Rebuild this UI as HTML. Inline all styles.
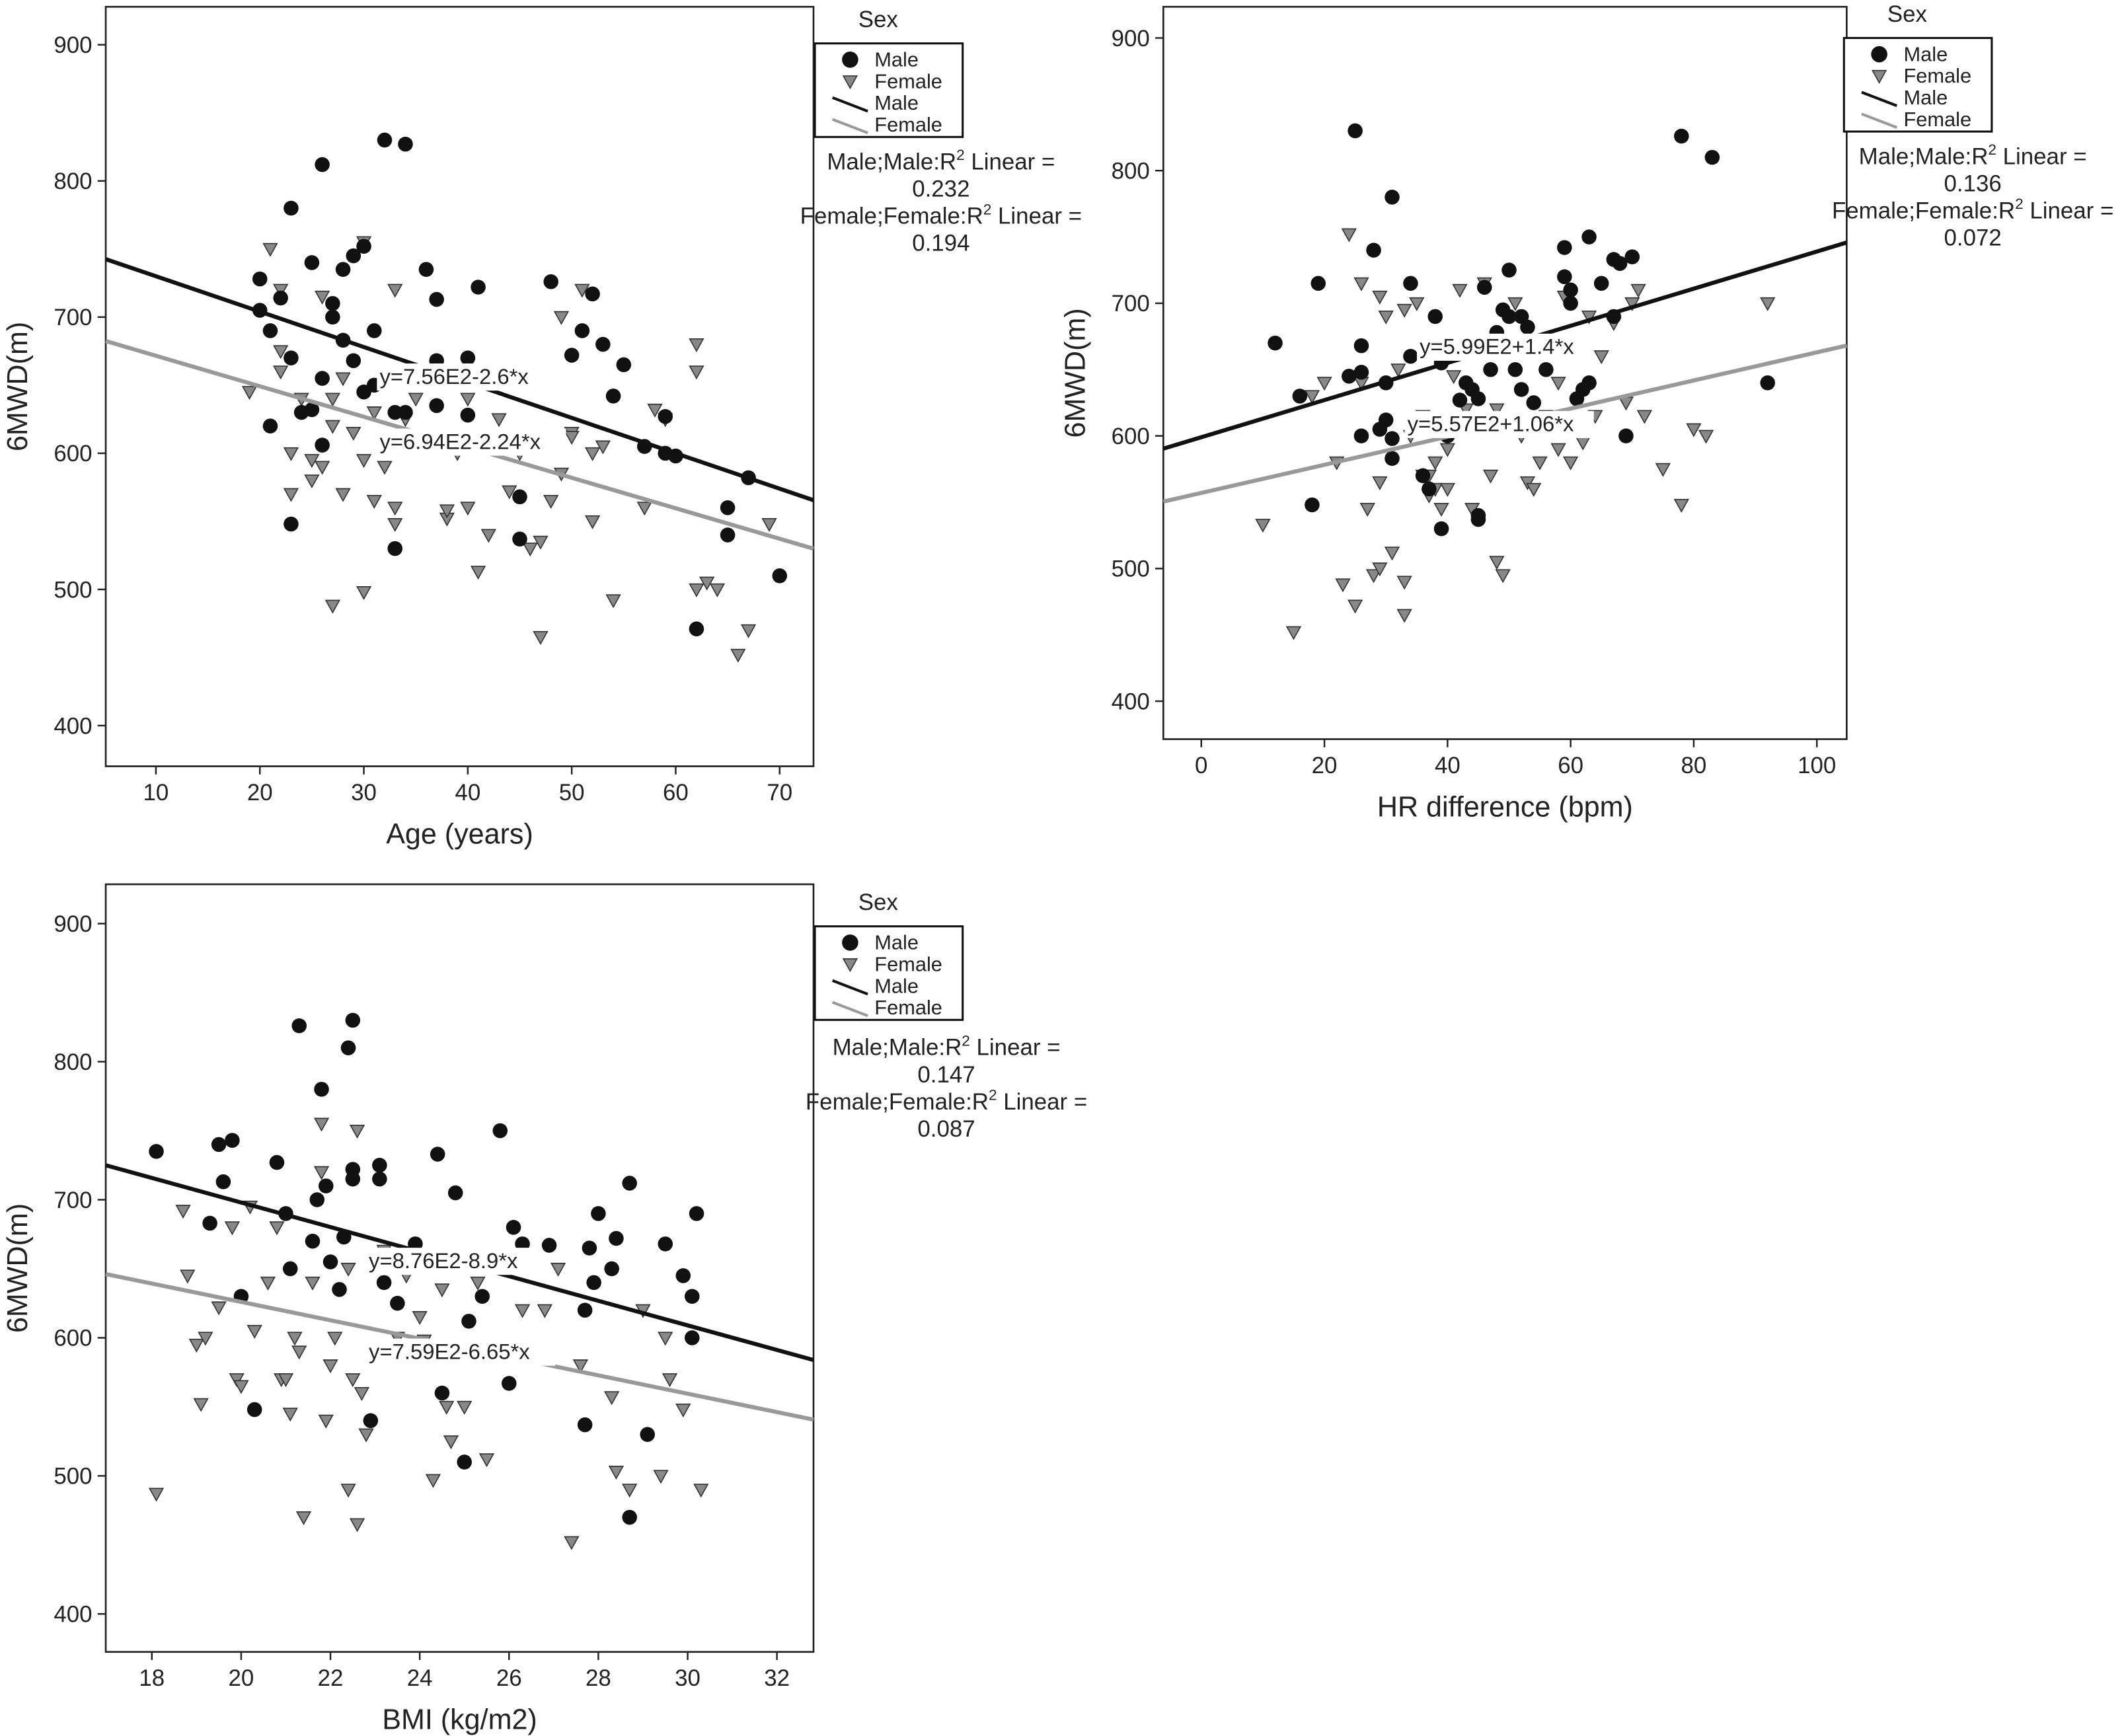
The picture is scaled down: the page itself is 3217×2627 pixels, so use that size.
<!DOCTYPE html>
<html><head><meta charset="utf-8"><style>
html,body{margin:0;padding:0;background:#fff}
svg{display:block;font-family:"Liberation Sans",Arial,sans-serif}
</style></head><body>
<svg id="fig" width="3217" height="2627" viewBox="0 0 1568 1280" preserveAspectRatio="none" xmlns="http://www.w3.org/2000/svg"></svg>
<script>
// ---- Panel 1: Age ----
const ageMaleX=[20,21,21,20,22,23,23,23,24,25,25,26,26,26,27,27,28,28,29,29,30,30,31,31,32,33,33,34,34,36,37,37,37,40,40,41,45,45,48,50,51,52,53,54,55,57,59,59,60,62,65,65,67,70];
const ageMaleY=[728,690,620,705,714,780,670,548,630,740,632,812,655,606,710,700,735,683,745,668,645,752,690,650,830,630,530,827,630,735,713,668,635,670,628,722,568,537,726,672,690,717,680,642,665,605,627,600,598,471,560,540,582,510];
const ageFemX=[19,21,22,22,22,23,23,24,25,25,26,26,27,27,27,28,28,29,30,30,30,31,31,32,32,33,33,33,34,35,38,38,38,39,40,40,40,41,42,43,44,45,46,47,47,48,49,49,50,50,51,52,52,53,54,57,58,59,62,62,62,63,64,66,67,69];
const ageFemY=[645,750,660,720,675,600,570,640,580,595,590,715,488,620,640,570,655,615,755,498,595,565,630,610,590,720,560,548,625,640,655,552,558,600,560,640,665,513,540,625,572,600,530,465,535,565,585,700,615,612,720,550,600,605,492,560,632,625,680,500,660,505,500,452,470,548];
// ---- Panel 2: HR ----
const hrMaleX=[12,16,18,19,24,25,26,26,26,28,29,30,30,31,31,31,34,34,36,37,38,39,39,40,42,43,44,45,45,45,46,47,48,49,50,50,51,52,52,53,54,56,59,59,60,60,61,62,63,63,65,67,67,68,69,70,78,83,92];
const hrMaleY=[670,630,548,715,645,830,668,648,600,740,605,612,640,598,780,583,715,660,570,560,690,655,530,600,627,640,635,540,537,628,712,650,678,695,725,690,650,690,635,682,625,650,742,720,710,700,628,635,750,640,715,733,690,730,600,735,826,810,640];
const hrFemX=[10,15,18,20,22,23,24,25,26,26,27,28,29,29,29,30,31,32,33,33,33,34,35,36,36,37,37,38,38,39,40,40,41,42,43,44,46,46,47,48,48,49,50,51,52,53,54,55,56,58,58,59,60,62,63,64,65,67,69,70,71,72,75,78,80,82,92];
const hrFemY=[533,452,630,640,580,488,752,472,640,715,545,495,500,705,565,690,512,650,465,490,695,600,700,615,570,570,555,560,580,545,560,590,645,710,620,545,610,715,570,505,620,495,610,700,600,565,560,580,615,640,590,705,580,595,690,615,660,685,625,700,710,615,575,548,605,600,700];
// ---- Panel 3: BMI ----
const bmiMaleX=[18.1,19.3,19.5,19.6,19.8,20,20.3,20.8,21,21.1,21.3,21.6,21.7,21.8,21.9,22,22.2,22.3,22.4,22.5,22.5,22.5,22.9,23.1,23.1,23.2,23.5,23.9,24.4,24.5,24.8,25,25.1,25.4,25.8,26,26.1,26.3,26.9,27.7,27.7,27.8,27.9,28,28.3,28.4,28.7,28.7,29.1,29.5,29.9,30.1,30.1,30.2];
const bmiMaleY=[735,683,740,713,743,630,548,727,690,650,826,670,700,780,710,655,635,673,810,722,830,715,540,725,715,640,625,668,733,560,705,510,612,630,750,567,680,668,667,537,620,665,640,690,650,672,712,470,530,668,645,600,630,690];
const bmiFemX=[18.1,18.7,18.8,19,19.1,19.2,19.5,19.8,19.9,20,20.2,20.3,20.6,20.8,20.9,21,21.1,21.2,21.3,21.4,21.6,21.8,21.8,21.9,22,22.1,22.4,22.4,22.5,22.6,22.6,22.7,22.8,23.2,23.5,23.7,24,24.1,24.3,24.5,24.6,24.7,25,25.3,25.5,26,26.3,26.8,27.1,27.4,27.6,28.3,28.4,28.7,29,29.4,29.5,29.6,29.9,30.3];
const bmiFemY=[487,692,645,595,552,600,622,680,570,565,695,605,640,680,570,570,545,600,590,470,640,755,720,540,580,600,490,650,570,750,465,560,530,663,600,645,615,598,497,635,550,525,550,640,512,590,620,620,650,452,580,557,503,490,620,500,600,570,548,490];
const yTicks=[400,500,600,700,800,900];
const ageTicks=[10,20,30,40,50,60,70];
const hrTicks=[0,20,40,60,80,100];
const bmiTicks=[18,20,22,24,26,28,30,32];
const fitAge=[756,-2.6,694,-2.24];
const fitHr=[599,1.4,557,1.06];
const fitBmi=[876,-8.9,759,-6.65];

const NS="http://www.w3.org/2000/svg";
const svg=document.getElementById('fig');
function mk(tag,attrs,parent,text){const e=document.createElementNS(NS,tag);for(const k in attrs)e.setAttribute(k,attrs[k]);if(text!==undefined)e.textContent=text;(parent||svg).appendChild(e);return e;}

function panel(cfg){
  const g=mk('g',{});
  
  
  const sx=v=>cfg.px0+(v-cfg.x0)*cfg.pxu;
  const sy=v=>cfg.py900+(900-v)*cfg.pyu;
  const vx=p=>cfg.x0+(p-cfg.px0)/cfg.pxu;
  const box=mk('rect',{x:cfg.L,y:cfg.T,width:cfg.R-cfg.L,height:cfg.B-cfg.T,fill:'none',stroke:'#222','stroke-width':1.3},g);
  
  
  yTicks.forEach(t=>{const y=sy(t);mk('line',{x1:cfg.L-6,x2:cfg.L,y1:y,y2:y,stroke:'#222','stroke-width':1.2},g);
    const tl=mk('text',{x:cfg.L-10,y:y+6,'text-anchor':'end','font-size':17,fill:'#222'},g,t);
    
    });
  cfg.xt.forEach(t=>{const x=sx(t);mk('line',{x1:x,x2:x,y1:cfg.B,y2:cfg.B+6,stroke:'#222','stroke-width':1.2},g);
    const tl=mk('text',{x:x,y:cfg.B+25,'text-anchor':'middle','font-size':17,fill:'#222'},g,t);
    
    });
  const yt=mk('text',{x:0,y:0,'text-anchor':'middle','font-size':21,fill:'#222',transform:`translate(${cfg.ytx},${(cfg.T+cfg.B)/2}) rotate(-90)`},g,'6MWD(m)');
  
  
  const xtl=mk('text',{x:(cfg.L+cfg.R)/2,y:cfg.B+57,'text-anchor':'middle','font-size':21,fill:'#222'},g,cfg.xtitle);
  
  
  cfg.fx.forEach((v,i)=>{const x=sx(v),y=sy(cfg.fy[i]);
    const p=mk('path',{d:`M${x-5},${y-4} L${x+5},${y-4} L${x},${y+5} Z`,fill:'#888',stroke:'#333','stroke-width':0.8},g);
    
    });
  cfg.mx.forEach((v,i)=>{const c=mk('circle',{cx:sx(v),cy:sy(cfg.my[i]),r:5.5,fill:'#111'},g);
    
    });
  const xa=vx(cfg.L),xb=vx(cfg.R),f=cfg.fit;
  const lm=mk('line',{x1:cfg.L,y1:sy(f[0]+f[1]*xa),x2:cfg.R,y2:sy(f[0]+f[1]*xb),stroke:'#111','stroke-width':3},g);
  
  
  const lf=mk('line',{x1:cfg.L,y1:sy(f[2]+f[3]*xa),x2:cfg.R,y2:sy(f[2]+f[3]*xb),stroke:'#999','stroke-width':3},g);
  
  
  cfg.eq.forEach(e=>{mk('rect',{x:e[0]-2,y:e[1]-15,width:e[2].length*9.3,height:20,fill:'#fff'},g);
    const t=mk('text',{x:e[0],y:e[1],'font-size':16,fill:'#222'},g,e[2]);
    
    });
  const lg=cfg.lg,lx=lg[0],ly=lg[1];
  const st=mk('text',{x:lx+32,y:ly-12,'font-size':17,fill:'#222'},g,'Sex');
  
  
  const lb=mk('rect',{x:lx,y:ly,width:109,height:69,fill:'#fff',stroke:'#111','stroke-width':1.5},g);
  
  
  mk('circle',{cx:lx+26,cy:ly+12,r:6,fill:'#111'},g);
  mk('path',{d:`M${lx+21},${ly+24} L${lx+31},${ly+24} L${lx+26},${ly+33} Z`,fill:'#888',stroke:'#333','stroke-width':0.8},g);
  mk('line',{x1:lx+13,y1:ly+40,x2:lx+39,y2:ly+50,stroke:'#111','stroke-width':2},g);
  mk('line',{x1:lx+13,y1:ly+56,x2:lx+39,y2:ly+66,stroke:'#999','stroke-width':2},g);
  [['Male',17],['Female',33],['Male',49],['Female',65]].forEach(a=>{const t=mk('text',{x:lx+44,y:ly+a[1],'font-size':15,fill:'#222'},g,a[0]);
    
    });
  const rc=cfg.rc;
  const lines=[['Male;Male:R','2',' Linear ='],[cfg.r2[0]],['Female;Female:R','2',' Linear ='],[cfg.r2[1]]];
  lines.forEach((l,i)=>{const t=mk('text',{x:rc[0],y:rc[1]+i*20,'text-anchor':'middle','font-size':17,fill:'#222'},g);
    
    
    mk('tspan',{},t,l[0]);
    if(l[1]){mk('tspan',{'font-size':11,dy:-7},t,l[1]);mk('tspan',{dy:7},t,l[2]);}
  });
}
panel({name:'age-panel',L:78,R:600,T:5,B:565,px0:115,x0:10,pxu:7.667,py900:33,pyu:1.004,xt:ageTicks,xtitle:'Age (years)',ytx:20,
  mx:ageMaleX,my:ageMaleY,fx:ageFemX,fy:ageFemY,fit:fitAge,
  eq:[[280,283,'y=7.56E2-2.6*x'],[280,331,'y=6.94E2-2.24*x']],lg:[601,32],rc:[694,125],r2:['0.232','0.194']});
panel({name:'hr-panel',L:858,R:1362,T:5,B:545,px0:886,x0:0,pxu:4.54,py900:28,pyu:0.978,xt:hrTicks,xtitle:'HR difference (bpm)',ytx:800,
  mx:hrMaleX,my:hrMaleY,fx:hrFemX,fy:hrFemY,fit:fitHr,
  eq:[[1047,261,'y=5.99E2+1.4*x'],[1038,318,'y=5.57E2+1.06*x']],lg:[1360,28],rc:[1455,121],r2:['0.136','0.072']});
panel({name:'bmi-panel',L:78,R:600,T:652,B:1218,px0:112,x0:18,pxu:32.93,py900:681,pyu:1.018,xt:bmiTicks,xtitle:'BMI (kg/m2)',ytx:20,
  mx:bmiMaleX,my:bmiMaleY,fx:bmiFemX,fy:bmiFemY,fit:fitBmi,
  eq:[[272,935,'y=8.76E2-8.9*x'],[272,1002,'y=7.59E2-6.65*x']],lg:[601,683],rc:[698,778],r2:['0.147','0.087']});
</script>
</body></html>
